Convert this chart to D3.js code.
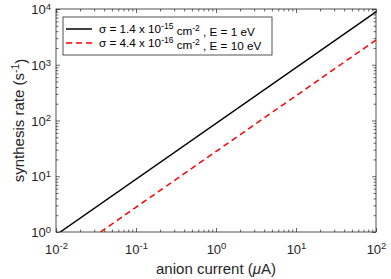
<!DOCTYPE html>
<html>
<head>
<meta charset="utf-8">
<style>
  body { margin: 0; background: #fff; }
  svg { font-family: 'Liberation Sans', Arial, sans-serif; }
  .axis .domain { display: none; }
  .axis .tick line { stroke: #262626; stroke-width: 0.7px; }
  .axis text { fill: #262626; }
</style>
</head>
<body>
<svg width="391" height="279"></svg>
<script src="https://d3js.org/d3.v7.min.js"></script>
<script>
// values
const xDecades = [-2, -1, 0, 1, 2];
const yDecades = [0, 1, 2, 3, 4];

const currentA = [0.0113, 100];   // anion current (uA), black
const rateA = [1, 8850];          // synthesis rate (1/s)
const currentB = [0.036, 100];    // red dashed
const rateB = [1, 2780];

const legendA = ["σ = 1.4 x 10", "-15", " cm", "-2", " , E = 1 eV"];
const legendB = ["σ = 4.4 x 10", "-16", " cm", "-2", " , E = 10 eV"];

const margin = { top: 9, right: 15, bottom: 47, left: 56 };
const width = 391, height = 279;

let svg = d3.select("svg");

let x = d3.scaleLog()
    .domain([1e-2, 1e2])
    .range([margin.left, width - margin.right]);

let y = d3.scaleLog()
    .domain([1, 1e4])
    .range([height - margin.bottom, margin.top]);

// minor ticks 2..9 in each decade
function minors(lo, hi) {
    let out = [];
    for (let e = lo; e < hi; e++) {
        for (let m = 2; m <= 9; m++) out.push(m * Math.pow(10, e));
    }
    return out;
}
let xMajor = xDecades.map(d => Math.pow(10, d));
let yMajor = yDecades.map(d => Math.pow(10, d));
let xMinor = minors(-2, 2);
let yMinor = minors(0, 4);

let bottomY = height - margin.bottom;
let rightX = width - margin.right;

// minor ticks, all four sides
svg.append("g").attr("class", "axis").attr("transform", `translate(0,${bottomY})`)
    .call(d3.axisBottom(x).tickValues(xMinor).tickSize(-2.5).tickFormat(""));
svg.append("g").attr("class", "axis").attr("transform", `translate(0,${margin.top})`)
    .call(d3.axisTop(x).tickValues(xMinor).tickSize(-2.5).tickFormat(""));
svg.append("g").attr("class", "axis").attr("transform", `translate(${margin.left},0)`)
    .call(d3.axisLeft(y).tickValues(yMinor).tickSize(-2.5).tickFormat(""));
svg.append("g").attr("class", "axis").attr("transform", `translate(${rightX},0)`)
    .call(d3.axisRight(y).tickValues(yMinor).tickSize(-2.5).tickFormat(""));

// major ticks top/right
svg.append("g").attr("class", "axis").attr("transform", `translate(0,${margin.top})`)
    .call(d3.axisTop(x).tickValues(xMajor).tickSize(-4).tickFormat(""));
svg.append("g").attr("class", "axis").attr("transform", `translate(${rightX},0)`)
    .call(d3.axisRight(y).tickValues(yMajor).tickSize(-4).tickFormat(""));

// major ticks with labels
let xAxis = svg.append("g").attr("class", "axis").attr("transform", `translate(0,${bottomY})`)
    .call(d3.axisBottom(x).tickValues(xMajor).tickSize(-4).tickPadding(17).tickFormat(""));
let yAxis = svg.append("g").attr("class", "axis").attr("transform", `translate(${margin.left},0)`)
    .call(d3.axisLeft(y).tickValues(yMajor).tickSize(-4).tickPadding(5).tickFormat(""));

function powLabel(sel) {
    sel.each(function (d) {
        let t = d3.select(this).text(null).style("font-size", "13px");
        t.append("tspan").text("10");
        t.append("tspan").attr("dy", "-0.45em").style("font-size", "9.5px")
            .text(Math.round(Math.log10(d)));
    });
}
xAxis.selectAll(".tick text").call(powLabel).attr("dy", "0.35em");
yAxis.selectAll(".tick text").call(powLabel).attr("dy", "0.35em");

// box
svg.append("rect")
    .attr("x", margin.left).attr("y", margin.top)
    .attr("width", rightX - margin.left).attr("height", bottomY - margin.top)
    .style("fill", "none").style("stroke", "#262626").style("stroke-width", "0.8px");

svg.append("clipPath").attr("id", "plot")
    .append("rect")
    .attr("x", margin.left).attr("y", margin.top)
    .attr("width", rightX - margin.left).attr("height", bottomY - margin.top);

let line = d3.line().x(d => x(d[0])).y(d => y(d[1]));

svg.append("path")
    .attr("clip-path", "url(#plot)")
    .attr("d", line(d3.zip(currentA, rateA)))
    .style("fill", "none").style("stroke", "#000").style("stroke-width", "1.5px");

svg.append("path")
    .attr("clip-path", "url(#plot)")
    .attr("d", line(d3.zip(currentB, rateB)))
    .style("fill", "none").style("stroke", "#ff0000").style("stroke-width", "1.5px")
    .style("stroke-dasharray", "6 4");

// axis titles
let xt = svg.append("text")
    .attr("x", (margin.left + rightX) / 2).attr("y", 274)
    .attr("text-anchor", "middle").style("font-size", "15px").style("fill", "#262626");
xt.append("tspan").text("anion current (");
xt.append("tspan").style("font-style", "italic").text("μ");
xt.append("tspan").text("A)");

let yt = svg.append("text")
    .attr("transform", `translate(24,${(margin.top + bottomY) / 2}) rotate(-90)`)
    .attr("text-anchor", "middle").style("font-size", "15px").style("fill", "#262626");
yt.append("tspan").text("synthesis rate (s");
yt.append("tspan").attr("dy", "-0.45em").style("font-size", "10.5px").text("-1");
yt.append("tspan").attr("dy", "0.45em").text(")");

// legend
let lg = svg.append("g");
lg.append("rect")
    .attr("x", 63).attr("y", 17).attr("width", 209).attr("height", 38)
    .style("fill", "#fff").style("stroke", "#262626").style("stroke-width", "0.8px");

function legendRow(parts, yy, color, dash) {
    lg.append("line")
        .attr("x1", 66).attr("x2", 92).attr("y1", yy).attr("y2", yy)
        .style("stroke", color).style("stroke-width", "1.5px")
        .style("stroke-dasharray", dash);
    let t = lg.append("text").attr("x", 99).attr("y", yy).attr("dy", "0.35em")
        .style("font-size", "11.7px").style("fill", "#000");
    t.append("tspan").text(parts[0]);
    t.append("tspan").attr("dy", "-0.45em").style("font-size", "8.5px").text(parts[1]);
    t.append("tspan").attr("dy", "0.45em").text(parts[2]);
    t.append("tspan").attr("dy", "-0.45em").style("font-size", "8.5px").text(parts[3]);
    t.append("tspan").attr("dy", "0.45em").text(parts[4]);
}
legendRow(legendA, 29, "#000", null);
legendRow(legendB, 43, "#ff0000", "6 4");
</script>
</body>
</html>
